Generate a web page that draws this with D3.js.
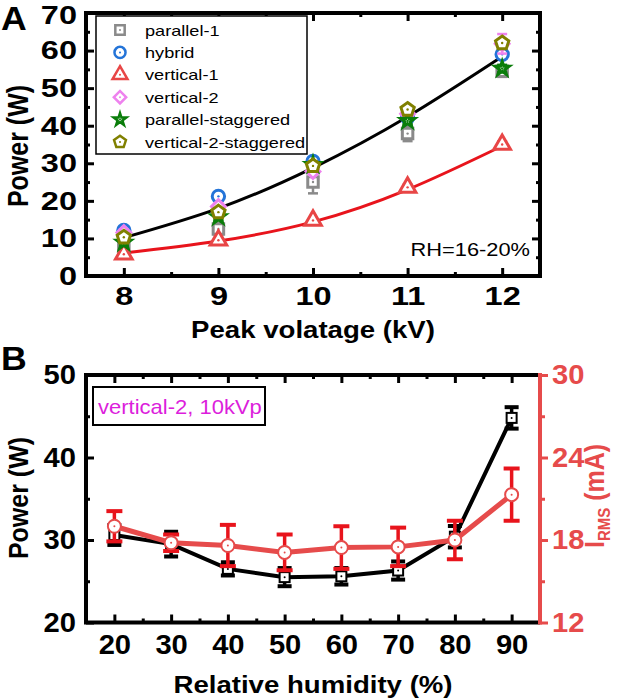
<!DOCTYPE html>
<html><head><meta charset="utf-8">
<script src="https://cdn.jsdelivr.net/npm/d3@7"></script>
<style>body{margin:0;background:#fff}</style>
</head><body>
<svg id="c" width="618" height="700" xmlns="http://www.w3.org/2000/svg"></svg>
<script>
// ---------------- Data: panel A ----------------
const voltage = [8, 9, 10, 11, 12];
const seriesNames = ["parallel-1", "hybrid", "vertical-1", "vertical-2", "parallel-staggered", "vertical-2-staggered"];
const parallel1 = [7.7, 12.5, 25.0, 37.9, 54.5];
const parallel1Err = [1.0, 1.5, 3.0, 2.0, 1.5];
const hybrid = [12.1, 21.2, 30.5, 42.2, 59.0];
const hybridErr = [0.7, 0.7, 0.8, 0.8, 1.0];
const vertical1 = [5.8, 9.5, 14.8, 23.6, 35.0];
const vertical1Err = [0.5, 0.6, 0.6, 0.7, 0.8];
const vertical2 = [11.6, 18.5, 27.8, 43.2, 61.8];
const vertical2Err = [0.8, 0.8, 0.8, 0.9, 2.6];
const parallelStaggered = [8.9, 15.7, 29.6, 41.3, 55.2];
const parallelStaggeredErr = [0.6, 0.8, 0.8, 0.8, 1.0];
const vertical2Staggered = [10.3, 17.0, 29.3, 44.3, 62.0];
const vertical2StaggeredErr = [0.6, 0.8, 0.8, 0.8, 1.0];
const fitVoltage = [8, 9, 10, 11, 12];
const fitUpper = [10.2, 18.0, 28.8, 42.4, 58.4];
const fitLower = [6.1, 9.3, 14.4, 23.0, 34.6];
const voltTicks = [8, 9, 10, 11, 12];
const voltMinor = [8.5, 9.5, 10.5, 11.5];
const powerTicksA = [0, 10, 20, 30, 40, 50, 60, 70];
const powerMinorA = [5, 15, 25, 35, 45, 55, 65];

// ---------------- Data: panel B ----------------
const humidity = [20, 30, 40, 50, 60, 70, 80, 90];
const powerB = [30.6, 29.5, 26.5, 25.5, 25.6, 26.3, 30.4, 44.8];
const powerBErr = [1.2, 1.5, 0.8, 1.1, 1.0, 1.1, 1.3, 1.3];
const irms = [19.0, 17.8, 17.6, 17.1, 17.45, 17.5, 18.0, 21.3];
const irmsErr = [1.1, 0.6, 1.5, 1.3, 1.55, 1.4, 1.4, 1.9];
const humTicks = [20, 30, 40, 50, 60, 70, 80, 90];
const humMinor = [25, 35, 45, 55, 65, 75, 85];
const powerTicksB = [20, 30, 40, 50];
const powerMinorB = [25, 35, 45];
const irmsTicks = [12, 18, 24, 30];
const irmsMinor = [15, 21, 27];

// ---------------- Setup ----------------
const FONT = "'Liberation Sans', Arial, Helvetica, sans-serif";
const SXA = 1.25, SXB = 1.08;
const svg = d3.select("#c");

function txt(x, y, s, o) {
  const g = svg.append("g").attr("transform",
    `translate(${x},${y})` + (o.rot ? ` rotate(${o.rot}) scale(1,${o.sx || 1})` : ` scale(${o.sx || 1},1)`));
  return g.append("text").attr("text-anchor", o.anchor || "start")
    .attr("font-family", FONT).attr("font-size", o.size)
    .attr("font-weight", o.weight || "normal").attr("fill", o.fill || "#000").text(s);
}

function ticks(tx, ty, make, scale, major, minor, len, mlen, o) {
  const g = svg.append("g").attr("transform", `translate(${tx},${ty})`);
  const a = g.append("g").call(make(scale).tickValues(major).tickSize(len).tickPadding(o.pad || 0)
    .tickFormat(o.labels ? d3.format("d") : ""));
  a.select(".domain").remove();
  a.selectAll("line").attr("stroke", o.color || "#000").attr("stroke-width", 3);
  if (o.labels) {
    a.selectAll("text").attr("font-family", FONT).attr("font-size", o.fs).attr("font-weight", "bold")
      .attr("fill", o.color || "#000").attr("transform", `scale(${o.sx},1)`);
    if (o.lx !== undefined) a.selectAll("text").attr("x", o.lx / o.sx);
  }
  const b = g.append("g").call(make(scale).tickValues(minor).tickSize(mlen).tickFormat(""));
  b.select(".domain").remove();
  b.selectAll("line").attr("stroke", o.color || "#000").attr("stroke-width", 3);
  return a;
}

// ---------------- Panel A ----------------
const xA = d3.scaleLinear().domain([7.6, 12.4]).range([86, 540]);
const yA = d3.scaleLinear().domain([0, 70]).range([276, 13]);

// fits
const lineA = d3.line().x((d, i) => xA(fitVoltage[i])).y(d => yA(d)).curve(d3.curveNatural);
svg.append("path").attr("d", lineA(fitUpper)).attr("fill", "none").attr("stroke", "#000").attr("stroke-width", 3);
svg.append("path").attr("d", lineA(fitLower)).attr("fill", "none").attr("stroke", "#e8141c").attr("stroke-width", 3);

function pentagon(r) {
  const p = d3.path();
  for (let k = 0; k < 5; k++) {
    const a = -Math.PI / 2 + k * 2 * Math.PI / 5;
    const px = r * Math.cos(a), py = r * Math.sin(a);
    if (k === 0) p.moveTo(px, py); else p.lineTo(px, py);
  }
  p.closePath();
  return p.toString();
}
const shapes = [
  { name: seriesNames[0], vals: parallel1, err: parallel1Err, color: "#8a8a8a", sym: s => d3.symbol(d3.symbolSquare, 110 * s)(), rot: 0 },
  { name: seriesNames[1], vals: hybrid, err: hybridErr, color: "#2474d8", sym: s => d3.symbol(d3.symbolCircle, 120 * s)(), rot: 0 },
  { name: seriesNames[2], vals: vertical1, err: vertical1Err, color: "#e84646", sym: s => d3.symbol(d3.symbolTriangle, 120 * s)(), rot: 0 },
  { name: seriesNames[3], vals: vertical2, err: vertical2Err, color: "#ee82ee", sym: s => d3.symbol(d3.symbolSquare, 95 * s)(), rot: 45 },
  { name: seriesNames[4], vals: parallelStaggered, err: parallelStaggeredErr, color: "#0a7d0a", sym: s => d3.symbol(d3.symbolStar, 60 * s)(), rot: 0 },
  { name: seriesNames[5], vals: vertical2Staggered, err: vertical2StaggeredErr, color: "#808000", sym: s => pentagon(7 * Math.sqrt(s)), rot: 0 }
];

shapes.forEach(S => {
  const g = svg.append("g");
  S.vals.forEach((v, i) => {
    const x = xA(voltage[i]);
    g.append("line").attr("x1", x).attr("x2", x).attr("y1", yA(v - S.err[i])).attr("y2", yA(v + S.err[i]))
      .attr("stroke", S.color).attr("stroke-width", 2.5);
    [v - S.err[i], v + S.err[i]].forEach(e => g.append("line").attr("x1", x - 5).attr("x2", x + 5)
      .attr("y1", yA(e)).attr("y2", yA(e)).attr("stroke", S.color).attr("stroke-width", 2.5));
    g.append("path").attr("d", S.sym(1)).attr("transform", `translate(${x},${yA(v)}) rotate(${S.rot})`)
      .attr("fill", "#fff").attr("stroke", S.color).attr("stroke-width", 3);
    g.append("circle").attr("cx", x).attr("cy", yA(v)).attr("r", 1.2).attr("fill", S.color);
  });
});

// frame & ticks A
svg.append("rect").attr("x", 86).attr("y", 13).attr("width", 454).attr("height", 263)
  .attr("fill", "none").attr("stroke", "#000").attr("stroke-width", 4);
ticks(0, 276, d3.axisBottom, xA, voltTicks, voltMinor, -8, -4, { labels: true, pad: 11, fs: 26, sx: SXA });
ticks(0, 13, d3.axisTop, xA, voltTicks, voltMinor, -8, -4, {});
const leftA = ticks(86, 0, d3.axisLeft, yA, powerTicksA, powerMinorA, -8, -4, { labels: true, fs: 26, sx: SXA, lx: -9 });
// keep the top label ("70") inside the picture
leftA.selectAll("text").filter(d => d === powerTicksA[powerTicksA.length - 1]).attr("y", 2.5);
ticks(540, 0, d3.axisRight, yA, powerTicksA, powerMinorA, -8, -4, {});

// legend
svg.append("rect").attr("x", 96).attr("y", 16).attr("width", 211).attr("height", 138)
  .attr("fill", "#fff").attr("stroke", "#000").attr("stroke-width", 1.5);
shapes.forEach((S, i) => {
  const cy = 30 + i * 22.4;
  svg.append("path").attr("d", S.sym(0.8)).attr("transform", `translate(120,${cy}) rotate(${S.rot})`)
    .attr("fill", "#fff").attr("stroke", S.color).attr("stroke-width", 2.5);
  svg.append("circle").attr("cx", 120).attr("cy", cy).attr("r", 1).attr("fill", S.color);
  txt(145, cy + 5.5, S.name, { size: 14.5, sx: SXA });
});

txt(530, 256, "RH=16-20%", { size: 18.5, sx: 1.18, anchor: "end" });
txt(1, 30, "A", { size: 33, weight: "bold", sx: 1.08 });
txt(28, 146, "Power (W)", { size: 25, weight: "bold", rot: -90, sx: 1.2, anchor: "middle" });
txt(313, 338, "Peak volatage (kV)", { size: 23, weight: "bold", sx: 1.2, anchor: "middle" });

// ---------------- Panel B ----------------
const xB = d3.scaleLinear().domain([15, 95]).range([86, 540]);
const yBL = d3.scaleLinear().domain([20, 50]).range([622.5, 375]);
const yBR = d3.scaleLinear().domain([12, 30]).range([622.5, 375]);

const lineB = d3.line().x((d, i) => xB(humidity[i])).y(d => yBL(d));
const lineR = d3.line().x((d, i) => xB(humidity[i])).y(d => yBR(d));

// power series (black)
svg.append("path").attr("d", lineB(powerB)).attr("fill", "none").attr("stroke", "#000").attr("stroke-width", 4);
powerB.forEach((v, i) => {
  const x = xB(humidity[i]);
  svg.append("line").attr("x1", x).attr("x2", x).attr("y1", yBL(v - powerBErr[i])).attr("y2", yBL(v + powerBErr[i]))
    .attr("stroke", "#000").attr("stroke-width", 3.5);
  [v - powerBErr[i], v + powerBErr[i]].forEach(e => svg.append("line").attr("x1", x - 7).attr("x2", x + 7)
    .attr("y1", yBL(e)).attr("y2", yBL(e)).attr("stroke", "#000").attr("stroke-width", 4));
  svg.append("rect").attr("x", x - 5).attr("y", yBL(v) - 5).attr("width", 10).attr("height", 10)
    .attr("fill", "#fff").attr("stroke", "#000").attr("stroke-width", 2);
  svg.append("circle").attr("cx", x).attr("cy", yBL(v)).attr("r", 1).attr("fill", "#000");
});
// irms series (red)
svg.append("path").attr("d", lineR(irms)).attr("fill", "none").attr("stroke", "#e64b4b").attr("stroke-width", 5);
irms.forEach((v, i) => {
  const x = xB(humidity[i]);
  svg.append("line").attr("x1", x).attr("x2", x).attr("y1", yBR(v - irmsErr[i])).attr("y2", yBR(v + irmsErr[i]))
    .attr("stroke", "#e8141c").attr("stroke-width", 3.5);
  [v - irmsErr[i], v + irmsErr[i]].forEach(e => svg.append("line").attr("x1", x - 8).attr("x2", x + 8)
    .attr("y1", yBR(e)).attr("y2", yBR(e)).attr("stroke", "#e8141c").attr("stroke-width", 4));
  svg.append("circle").attr("cx", x).attr("cy", yBR(v)).attr("r", 6.5)
    .attr("fill", "#fff").attr("stroke", "#e64b4b").attr("stroke-width", 2);
  svg.append("circle").attr("cx", x).attr("cy", yBR(v)).attr("r", 1).attr("fill", "#e64b4b");
});

// frame B
svg.append("path").attr("d", d3.line()([[540, 375], [86, 375], [86, 622.5], [540, 622.5]]))
  .attr("fill", "none").attr("stroke", "#000").attr("stroke-width", 4);
svg.append("line").attr("x1", 540).attr("x2", 540).attr("y1", 373).attr("y2", 624.5)
  .attr("stroke", "#e64b4b").attr("stroke-width", 4);
ticks(0, 622.5, d3.axisBottom, xB, humTicks, humMinor, -8, -4, { labels: true, pad: 12, fs: 27, sx: SXB });
ticks(0, 375, d3.axisTop, xB, humTicks, humMinor, -8, -4, {});
ticks(86, 0, d3.axisLeft, yBL, powerTicksB, powerMinorB, -8, -4, { labels: true, fs: 27, sx: SXB, lx: -10 });
ticks(540, 0, d3.axisRight, yBR, irmsTicks, irmsMinor, 8, 5, { labels: true, fs: 27, sx: SXB, lx: 12, color: "#e64b4b" });

// annotation box
svg.append("rect").attr("x", 93).attr("y", 387).attr("width", 172).attr("height", 38)
  .attr("fill", "#fff").attr("stroke", "#000").attr("stroke-width", 2);
txt(98, 414, "vertical-2, 10kVp", { size: 20, sx: 1.1, fill: "#dc1edc" });

txt(1, 370, "B", { size: 33, weight: "bold", sx: 1.08 });
txt(28, 498, "Power (W)", { size: 25, weight: "bold", rot: -90, sx: 1.1, anchor: "middle" });
txt(313, 693, "Relative humidity (%)", { size: 24, weight: "bold", sx: 1.15, anchor: "middle" });

// right axis title: I_RMS (mA)
{
  const g = svg.append("g").attr("transform", "translate(604,496) rotate(-90) scale(1,1.1)");
  const t = g.append("text").attr("text-anchor", "middle").attr("font-family", FONT)
    .attr("font-weight", "bold").attr("font-size", 25).attr("fill", "#e64b4b");
  t.append("tspan").text("I");
  t.append("tspan").attr("font-size", 15).attr("dy", 5).text("RMS");
  t.append("tspan").attr("dy", -5).text(" (mA)");
}
</script>
</body></html>
